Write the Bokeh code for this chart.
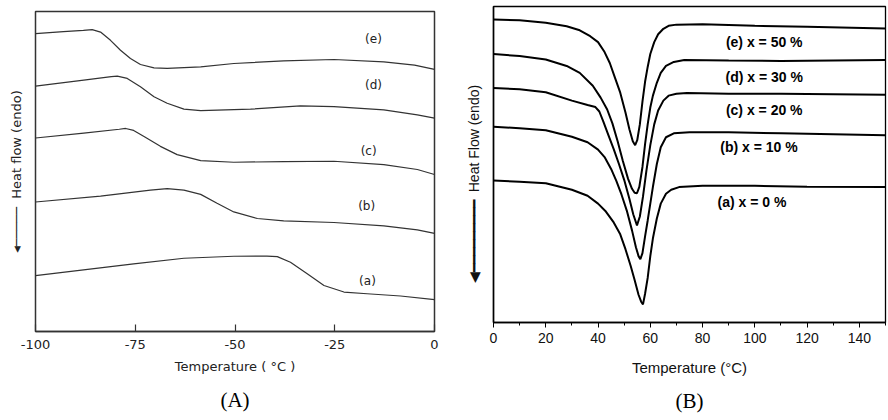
from bokeh.plotting import figure
from bokeh.layouts import row
from bokeh.models import Range1d, FixedTicker, Label, Title
from bokeh.embed import file_html
from bokeh.resources import INLINE

# ---------------- Panel A data (arbitrary heat-flow units) ----------------
A_ticks = [-100, -75, -50, -25, 0]
A_e_T = [-100, -93, -88, -85.8, -83.7, -81.2, -78.7, -76.2, -73.7, -70.3, -67, -58.6, -50.3, -37.8, -25.2, -12.7, -5, 0]
A_e_v = [299.7, 301.7, 303, 303.7, 301.3, 293, 283, 274.7, 268.7, 265.3, 264.7, 266.3, 269.7, 272.3, 273.7, 271.3, 268, 263.7]
A_d_T = [-100, -87.9, -81, -79.5, -77, -73.7, -70.3, -67, -62.8, -58.6, -46.1, -33.6, -25.2, -12.7, -4.3, 0]
A_d_v = [247, 253, 256.5, 257, 254.7, 246.3, 236.3, 229.7, 223.7, 222.3, 223.7, 227, 226.3, 223, 218, 214.7]
A_c_T = [-100, -87.9, -79, -77.4, -75.4, -72.8, -68.7, -64.5, -58.6, -50.3, -37.8, -25.2, -12.7, -4.3, 0]
A_c_v = [194.7, 199.7, 203.5, 204.3, 202.3, 196.3, 186.3, 178, 172, 170.3, 171, 171.3, 168, 163, 158]
A_b_T = [-100, -83.7, -71.2, -67, -62.8, -58.6, -54.5, -50.3, -44.4, -37.8, -25.2, -12.7, -4.3, 0]
A_b_v = [130.3, 136.3, 142.3, 143.7, 142.3, 138, 129, 120.3, 113.7, 111.3, 109.7, 106.3, 102.3, 98.7]
A_a_T = [-100, -75.4, -62.8, -50.3, -42, -39.4, -36.1, -31.9, -27.7, -22.7, -16.9, -8.5, 0]
A_a_v = [56.3, 68, 73.7, 75.7, 75.8, 75.3, 69.7, 58, 46.3, 39.7, 38, 35.7, 32]
A_labels = ["(e)", "(d)", "(c)", "(b)", "(a)"]

# ---------------- Panel B data (arbitrary heat-flow units) ----------------
B_major = [0, 20, 40, 60, 80, 100, 120, 140]
B_minor = [10, 30, 50, 70, 90, 110, 130, 150]
B_e_T = [0, 10, 20, 28, 33, 37, 40, 42.5, 44.5, 46.5, 48.5, 50.5, 52, 53.3, 54.2, 55, 56, 57, 58, 59, 60, 61.5, 63, 65, 67, 70, 80, 100, 120, 150]
B_e_v = [306, 305, 302.5, 299, 295, 289, 283, 273, 262, 247, 232, 212, 195, 183, 179, 184, 200, 223, 243, 258, 271, 283, 291, 296.5, 299.5, 300.7, 301, 299.5, 298.5, 296.7]
B_d_T = [0, 10, 20, 28, 33, 38, 41, 43.5, 45.5, 47.5, 49.5, 51.5, 53, 54, 54.9, 55.8, 57, 58, 59, 60, 61, 62.5, 64, 66, 69, 73, 90, 110, 130, 150]
B_d_v = [271, 269, 265.5, 259, 252, 239, 227, 215, 201, 183, 163, 145, 135, 131, 130.5, 137, 157, 180, 200, 217, 229, 242, 252, 259, 263, 265, 264.5, 264, 264.5, 265]
B_c_T = [0, 10, 20, 30, 36, 39, 40.5, 42, 44, 46, 48, 50, 52, 53.5, 54.9, 56, 57.2, 58.5, 60, 61.5, 63, 65, 67, 70, 74, 90, 110, 130, 150]
B_c_v = [236.7, 235.5, 232.5, 224, 219.5, 217.5, 213, 203, 189, 175, 160, 144, 125, 109, 98, 107, 127, 153, 179, 200, 214, 224, 229, 231, 231.7, 231, 231, 230.5, 230]
B_b_T = [0, 10, 20, 30, 36, 40, 42.5, 45, 47, 49, 51, 53, 54.5, 55.5, 56.2, 57, 58, 59, 60, 61, 62.5, 64, 66, 69, 75, 90, 110, 130, 150]
B_b_v = [197.7, 196, 194, 187.5, 182, 174.5, 167, 155, 143, 129, 113, 93, 76, 67, 64, 70, 87, 103, 120, 137, 160, 177, 187, 191, 192, 192, 191, 190, 189]
B_a_T = [0, 10, 20, 30, 36, 40, 43, 46, 48.5, 50.5, 52.5, 54, 55.5, 56.5, 57.2, 58, 59, 60, 61, 62.5, 64, 66, 68, 71, 80, 100, 120, 150]
B_a_v = [143.3, 142, 140.5, 134, 128, 120, 112, 101, 89, 74, 57, 43, 28, 21, 18.3, 29, 45, 67, 85, 105, 120, 130, 134, 136.7, 138, 138, 137, 136.7]
B_labels = ["(e) x = 50 %", "(d) x = 30 %", "(c) x = 20 %", "(b) x = 10 %", "(a) x = 0 %"]

FA = "DejaVu Sans"
FB = "Liberation Sans"
FS = "Liberation Serif"
NB = "\u00a0"

def no_frame_align(p):
    if "frame_align" in p.properties():
        p.frame_align = False

# ================= Panel A =================
pA = figure(width=444, height=420, x_range=Range1d(-100, 0), y_range=Range1d(0, 322),
            output_backend="svg", toolbar_location=None,
            min_border_left=35, min_border_right=10, min_border_top=11, min_border_bottom=87)
no_frame_align(pA)
pA.grid.visible = False
pA.outline_line_color = "#333333"
pA.outline_line_width = 1.5
pA.background_fill_color = "white"
pA.border_fill_color = "white"

xa = pA.xaxis[0]
xa.ticker = FixedTicker(ticks=A_ticks, minor_ticks=[])
xa.major_label_overrides = {t: ("%d" % t) for t in A_ticks}
xa.major_tick_in = 7
xa.major_tick_out = 0
xa.major_tick_line_color = "#333333"
xa.major_tick_line_width = 1.2
xa.axis_line_color = "#333333"
xa.axis_line_width = 1.5
xa.major_label_standoff = 8
xa.major_label_text_font = FA
xa.major_label_text_font_size = "13px"
xa.major_label_text_color = "#222222"
xa.axis_label = "Temperature ( °C )"
xa.axis_label_text_font = FA
xa.axis_label_text_font_size = "13px"
xa.axis_label_text_font_style = "normal"
xa.axis_label_text_color = "#222222"
xa.axis_label_standoff = 7

ya = pA.yaxis[0]
ya.ticker = FixedTicker(ticks=[], minor_ticks=[])
ya.axis_line_color = None
ya.major_tick_line_color = None
ya.minor_tick_line_color = None
# downward arrow (rotated text) followed by the axis title
ya.axis_label = "\u25c2" + "\u2500" * 5 + NB * 2 + "Heat flow (endo)"
ya.axis_label_text_font = FA
ya.axis_label_text_font_size = "13px"
ya.axis_label_text_font_style = "normal"
ya.axis_label_text_color = "#222222"
ya.axis_label_standoff = 12

A_series = [(A_e_T, A_e_v), (A_d_T, A_d_v), (A_c_T, A_c_v), (A_b_T, A_b_v), (A_a_T, A_a_v)]
for T, v in A_series:
    pA.line(T, v, line_color="#333333", line_width=1.2)

A_label_pos = [(-15.3, 294), (-15.3, 248), (-16.5, 182), (-17, 126), (-16.8, 51)]
for txt, (lx, ly) in zip(A_labels, A_label_pos):
    pA.add_layout(Label(x=lx, y=ly, text=txt, text_font=FA, text_font_size="12px",
                        text_color="#222222", text_align="center", text_baseline="middle"))

pA.add_layout(Title(text="(A)", align="center", offset=-16, standoff=18,
                    text_font=FS, text_font_size="21px", text_font_style="normal",
                    text_color="black"), "below")

# ================= Panel B =================
pB = figure(width=444, height=420, x_range=Range1d(0, 150), y_range=Range1d(0, 319),
            output_backend="svg", toolbar_location=None,
            min_border_left=49, min_border_right=3, min_border_top=6, min_border_bottom=95)
no_frame_align(pB)
pB.grid.visible = False
pB.outline_line_color = "black"
pB.outline_line_width = 1.3
pB.background_fill_color = "white"
pB.border_fill_color = "white"

xb = pB.xaxis[0]
xb.ticker = FixedTicker(ticks=B_major, minor_ticks=B_minor)
xb.major_tick_in = 0
xb.major_tick_out = 5
xb.minor_tick_in = 0
xb.minor_tick_out = 3
xb.major_tick_line_color = "black"
xb.minor_tick_line_color = "black"
xb.axis_line_color = "black"
xb.axis_line_width = 1.5
xb.major_label_standoff = 5
xb.major_label_text_font = FB
xb.major_label_text_font_size = "14px"
xb.major_label_text_color = "#111111"
xb.axis_label = "Temperature (°C)"
xb.axis_label_text_font = FB
xb.axis_label_text_font_size = "15px"
xb.axis_label_text_font_style = "normal"
xb.axis_label_text_color = "#111111"
xb.axis_label_standoff = 13

yb = pB.yaxis[0]
yb.ticker = FixedTicker(ticks=[], minor_ticks=[])
yb.axis_line_color = "black"
yb.axis_line_width = 1.5
yb.major_tick_line_color = None
yb.minor_tick_line_color = None
yb.axis_label = "\u25c0" + "\u2501" * 9 + NB * 2 + "Heat Flow (endo)" + NB * 10
yb.axis_label_text_font = FB
yb.axis_label_text_font_size = "14px"
yb.axis_label_text_font_style = "normal"
yb.axis_label_text_color = "#111111"
yb.axis_label_standoff = 12

B_series = [(B_e_T, B_e_v), (B_d_T, B_d_v), (B_c_T, B_c_v), (B_b_T, B_b_v), (B_a_T, B_a_v)]
for T, v in B_series:
    pB.line(T, v, line_color="black", line_width=2)

B_label_pos = [(103.6, 283.3), (103.6, 248.3), (103.6, 215), (101.6, 177.3), (98.9, 121.7)]
for txt, (lx, ly) in zip(B_labels, B_label_pos):
    pB.add_layout(Label(x=lx, y=ly, text=txt, text_font=FB, text_font_size="14px",
                        text_font_style="bold", text_color="black",
                        text_align="center", text_baseline="middle"))

pB.add_layout(Title(text="(B)", align="center", offset=2, standoff=16,
                    text_font=FS, text_font_size="21px", text_font_style="normal",
                    text_color="black"), "below")

layout = row(pA, pB)
open("out.html", "w").write(file_html(layout, INLINE))
